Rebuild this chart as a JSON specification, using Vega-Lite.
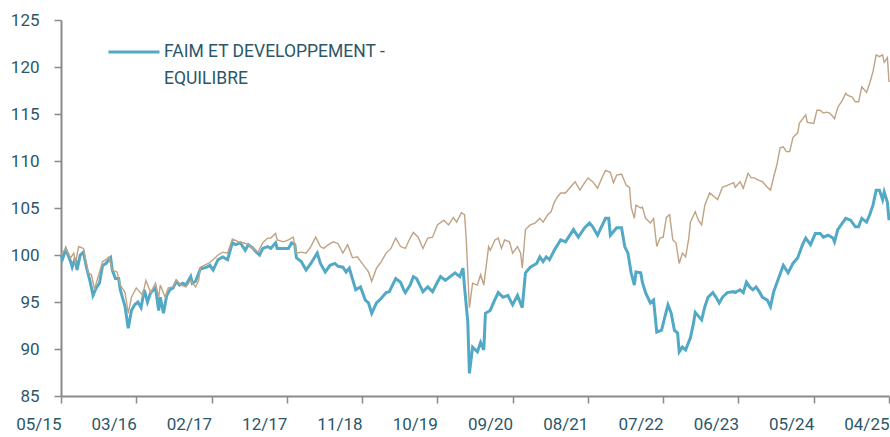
{
  "$schema": "https://vega.github.io/schema/vega-lite/v6.json",
  "width": 828,
  "height": 376,
  "autosize": {"type": "none"},
  "padding": {"left": 61, "top": 20, "right": 1, "bottom": 41},
  "background": "white",
  "config": {
    "view": {"stroke": null},
    "font": "Roboto"
  },
  "datasets": {
    "fund": [
      {"week":0,"value":100.0},{"week":1,"value":99.6},{"week":3,"value":100.6},{"week":6,"value":99.3},{"week":7,"value":98.7},{"week":9,"value":99.7},{"week":10,"value":98.4},{"week":12,"value":100.0},{"week":14,"value":100.3},{"week":16,"value":98.6},{"week":18,"value":97.3},{"week":20,"value":95.7},{"week":22,"value":96.5},{"week":24,"value":97.0},{"week":26,"value":98.9},{"week":28,"value":99.1},{"week":31,"value":99.7},{"week":32,"value":98.4},{"week":34,"value":97.5},{"week":36,"value":97.5},{"week":37,"value":96.3},{"week":40,"value":94.5},{"week":42,"value":92.2},{"week":44,"value":94.1},{"week":46,"value":94.7},{"week":48,"value":95.0},{"week":50,"value":94.4},{"week":52,"value":96.3},{"week":54,"value":95.0},{"week":56,"value":96.0},{"week":59,"value":96.5},{"week":61,"value":94.1},{"week":62,"value":95.5},{"week":64,"value":93.8},{"week":66,"value":95.7},{"week":68,"value":96.3},{"week":70,"value":96.5},{"week":72,"value":97.2},{"week":74,"value":96.8},{"week":76,"value":97.0},{"week":78,"value":96.8},{"week":81,"value":97.7},{"week":82,"value":97.0},{"week":84,"value":97.2},{"week":87,"value":98.5},{"week":91,"value":98.7},{"week":93,"value":98.9},{"week":95,"value":98.4},{"week":98,"value":99.5},{"week":101,"value":99.8},{"week":104,"value":99.5},{"week":107,"value":101.3},{"week":109,"value":101.1},{"week":112,"value":101.3},{"week":115,"value":100.5},{"week":117,"value":101.1},{"week":120,"value":100.7},{"week":122,"value":100.3},{"week":124,"value":100.0},{"week":126,"value":100.7},{"week":129,"value":100.9},{"week":131,"value":100.7},{"week":134,"value":101.3},{"week":135,"value":100.7},{"week":139,"value":100.7},{"week":142,"value":100.7},{"week":144,"value":101.3},{"week":146,"value":101.1},{"week":147,"value":99.7},{"week":150,"value":99.3},{"week":153,"value":98.4},{"week":156,"value":99.1},{"week":160,"value":100.2},{"week":162,"value":99.1},{"week":165,"value":98.2},{"week":168,"value":98.9},{"week":171,"value":99.1},{"week":173,"value":98.8},{"week":176,"value":98.7},{"week":178,"value":98.2},{"week":180,"value":98.6},{"week":184,"value":96.3},{"week":187,"value":96.6},{"week":190,"value":95.2},{"week":192,"value":94.9},{"week":194,"value":93.8},{"week":197,"value":94.9},{"week":200,"value":95.4},{"week":203,"value":96.0},{"week":205,"value":96.1},{"week":207,"value":96.8},{"week":209,"value":97.5},{"week":212,"value":97.1},{"week":214,"value":96.3},{"week":215,"value":96.0},{"week":218,"value":96.8},{"week":220,"value":97.7},{"week":222,"value":97.5},{"week":224,"value":96.8},{"week":226,"value":96.1},{"week":229,"value":96.6},{"week":232,"value":96.1},{"week":235,"value":97.1},{"week":237,"value":97.7},{"week":240,"value":97.3},{"week":243,"value":97.7},{"week":246,"value":98.1},{"week":249,"value":97.7},{"week":251,"value":98.6},{"week":252,"value":96.5},{"week":254,"value":92.9},{"week":255,"value":87.4},{"week":257,"value":90.2},{"week":260,"value":89.7},{"week":262,"value":90.7},{"week":264,"value":89.9},{"week":265,"value":93.8},{"week":268,"value":94.1},{"week":270,"value":94.9},{"week":273,"value":96.0},{"week":276,"value":95.5},{"week":279,"value":95.7},{"week":282,"value":94.7},{"week":285,"value":95.7},{"week":288,"value":94.4},{"week":290,"value":98.1},{"week":293,"value":98.7},{"week":297,"value":99.1},{"week":299,"value":99.8},{"week":301,"value":99.3},{"week":303,"value":99.8},{"week":305,"value":99.5},{"week":308,"value":100.5},{"week":312,"value":101.6},{"week":315,"value":101.4},{"week":320,"value":102.7},{"week":323,"value":101.9},{"week":327,"value":102.9},{"week":330,"value":103.4},{"week":332,"value":103.0},{"week":335,"value":102.1},{"week":340,"value":103.9},{"week":342,"value":103.9},{"week":343,"value":102.1},{"week":347,"value":102.9},{"week":350,"value":102.9},{"week":352,"value":100.9},{"week":354,"value":100.2},{"week":356,"value":98.1},{"week":358,"value":96.8},{"week":359,"value":98.2},{"week":362,"value":98.1},{"week":363,"value":97.1},{"week":365,"value":96.0},{"week":368,"value":94.9},{"week":370,"value":95.2},{"week":372,"value":91.8},{"week":375,"value":92.0},{"week":377,"value":93.4},{"week":379,"value":94.7},{"week":381,"value":93.8},{"week":383,"value":92.0},{"week":385,"value":91.7},{"week":386,"value":89.7},{"week":388,"value":90.2},{"week":390,"value":89.9},{"week":393,"value":91.2},{"week":395,"value":92.8},{"week":396,"value":93.9},{"week":400,"value":93.1},{"week":402,"value":94.5},{"week":404,"value":95.5},{"week":407,"value":96.0},{"week":409,"value":95.5},{"week":411,"value":94.9},{"week":413,"value":95.5},{"week":416,"value":96.0},{"week":420,"value":96.1},{"week":421,"value":96.0},{"week":424,"value":96.3},{"week":426,"value":96.0},{"week":428,"value":97.1},{"week":430,"value":96.6},{"week":432,"value":96.3},{"week":434,"value":96.6},{"week":436,"value":96.1},{"week":438,"value":95.5},{"week":441,"value":95.2},{"week":443,"value":94.5},{"week":445,"value":96.1},{"week":448,"value":97.5},{"week":451,"value":98.9},{"week":454,"value":98.1},{"week":457,"value":99.1},{"week":460,"value":99.7},{"week":463,"value":101.1},{"week":465,"value":101.8},{"week":468,"value":101.1},{"week":471,"value":102.3},{"week":474,"value":102.3},{"week":476,"value":101.9},{"week":479,"value":102.1},{"week":482,"value":101.8},{"week":483,"value":101.4},{"week":485,"value":102.7},{"week":490,"value":103.9},{"week":493,"value":103.7},{"week":496,"value":103.0},{"week":498,"value":103.0},{"week":500,"value":103.9},{"week":503,"value":103.5},{"week":505,"value":104.3},{"week":507,"value":105.3},{"week":509,"value":106.9},{"week":511,"value":106.9},{"week":513,"value":105.9},{"week":514,"value":106.7},{"week":516,"value":105.6},{"week":517,"value":103.7}
    ],
    "bench": [
      {"week":0,"value":100.0},{"week":3,"value":100.7},{"week":6,"value":99.7},{"week":8,"value":100.2},{"week":9,"value":99.1},{"week":11,"value":100.9},{"week":14,"value":100.7},{"week":17,"value":98.1},{"week":19,"value":97.9},{"week":21,"value":96.3},{"week":22,"value":97.0},{"week":26,"value":99.3},{"week":28,"value":99.5},{"week":30,"value":99.8},{"week":32,"value":98.4},{"week":35,"value":98.2},{"week":37,"value":96.8},{"week":40,"value":96.0},{"week":42,"value":93.8},{"week":44,"value":95.5},{"week":47,"value":96.5},{"week":49,"value":96.1},{"week":51,"value":95.7},{"week":53,"value":97.3},{"week":56,"value":96.0},{"week":59,"value":97.0},{"week":61,"value":95.5},{"week":62,"value":96.8},{"week":65,"value":95.5},{"week":67,"value":96.5},{"week":70,"value":96.6},{"week":72,"value":97.3},{"week":75,"value":96.8},{"week":78,"value":96.6},{"week":81,"value":97.3},{"week":84,"value":96.6},{"week":86,"value":97.3},{"week":87,"value":98.7},{"week":92,"value":99.1},{"week":95,"value":99.5},{"week":98,"value":100.0},{"week":101,"value":100.3},{"week":104,"value":100.2},{"week":107,"value":101.7},{"week":111,"value":101.4},{"week":114,"value":101.3},{"week":117,"value":101.1},{"week":120,"value":100.7},{"week":123,"value":100.3},{"week":126,"value":101.3},{"week":129,"value":101.8},{"week":131,"value":101.8},{"week":134,"value":102.3},{"week":135,"value":101.6},{"week":139,"value":101.4},{"week":142,"value":101.6},{"week":145,"value":101.9},{"week":147,"value":100.2},{"week":150,"value":100.3},{"week":153,"value":100.2},{"week":156,"value":100.9},{"week":159,"value":101.9},{"week":162,"value":100.9},{"week":164,"value":100.7},{"week":167,"value":101.1},{"week":170,"value":101.4},{"week":173,"value":101.2},{"week":176,"value":100.2},{"week":179,"value":101.1},{"week":182,"value":99.7},{"week":185,"value":99.8},{"week":189,"value":98.9},{"week":192,"value":98.2},{"week":194,"value":97.2},{"week":197,"value":98.6},{"week":200,"value":99.3},{"week":203,"value":100.2},{"week":206,"value":100.7},{"week":209,"value":101.8},{"week":212,"value":100.9},{"week":215,"value":100.7},{"week":218,"value":101.8},{"week":220,"value":102.4},{"week":223,"value":101.9},{"week":226,"value":100.7},{"week":229,"value":101.8},{"week":232,"value":101.9},{"week":235,"value":103.2},{"week":239,"value":103.7},{"week":242,"value":103.2},{"week":245,"value":104.0},{"week":247,"value":103.5},{"week":250,"value":104.5},{"week":252,"value":104.3},{"week":253,"value":101.8},{"week":255,"value":94.4},{"week":257,"value":97.0},{"week":260,"value":96.8},{"week":262,"value":97.9},{"week":264,"value":96.8},{"week":267,"value":100.9},{"week":268,"value":100.5},{"week":271,"value":101.6},{"week":273,"value":101.8},{"week":275,"value":100.7},{"week":277,"value":101.6},{"week":280,"value":101.4},{"week":282,"value":100.2},{"week":285,"value":100.9},{"week":287,"value":100.2},{"week":288,"value":98.6},{"week":290,"value":102.7},{"week":293,"value":103.2},{"week":296,"value":103.4},{"week":299,"value":103.9},{"week":301,"value":103.5},{"week":304,"value":104.3},{"week":306,"value":104.6},{"week":308,"value":105.6},{"week":310,"value":106.2},{"week":312,"value":106.6},{"week":315,"value":106.6},{"week":318,"value":107.2},{"week":321,"value":107.8},{"week":324,"value":106.9},{"week":327,"value":107.7},{"week":329,"value":108.2},{"week":332,"value":107.8},{"week":335,"value":107.1},{"week":338,"value":108.3},{"week":340,"value":109.0},{"week":343,"value":108.8},{"week":345,"value":107.7},{"week":347,"value":108.5},{"week":350,"value":108.6},{"week":353,"value":107.4},{"week":355,"value":107.2},{"week":356,"value":105.1},{"week":358,"value":103.9},{"week":359,"value":105.3},{"week":362,"value":105.0},{"week":363,"value":105.1},{"week":365,"value":103.9},{"week":368,"value":103.4},{"week":370,"value":103.9},{"week":372,"value":100.9},{"week":374,"value":101.8},{"week":376,"value":101.9},{"week":378,"value":104.0},{"week":380,"value":104.3},{"week":382,"value":101.6},{"week":384,"value":101.3},{"week":386,"value":99.1},{"week":388,"value":100.2},{"week":390,"value":99.8},{"week":392,"value":101.8},{"week":393,"value":103.5},{"week":396,"value":104.6},{"week":398,"value":103.7},{"week":400,"value":103.2},{"week":402,"value":105.3},{"week":405,"value":106.6},{"week":408,"value":106.2},{"week":410,"value":105.9},{"week":413,"value":107.2},{"week":416,"value":107.4},{"week":420,"value":107.7},{"week":421,"value":107.2},{"week":424,"value":107.8},{"week":426,"value":107.1},{"week":429,"value":108.7},{"week":431,"value":108.2},{"week":433,"value":108.2},{"week":435,"value":108.0},{"week":438,"value":107.8},{"week":440,"value":107.4},{"week":441,"value":107.2},{"week":443,"value":106.9},{"week":445,"value":108.3},{"week":447,"value":109.6},{"week":449,"value":111.4},{"week":451,"value":111.5},{"week":453,"value":111.0},{"week":455,"value":111.0},{"week":457,"value":112.5},{"week":460,"value":113.0},{"week":461,"value":114.0},{"week":465,"value":114.9},{"week":466,"value":114.1},{"week":470,"value":114.0},{"week":472,"value":115.4},{"week":474,"value":115.4},{"week":476,"value":115.1},{"week":478,"value":115.2},{"week":480,"value":115.1},{"week":482,"value":114.7},{"week":483,"value":114.5},{"week":485,"value":115.7},{"week":488,"value":116.5},{"week":490,"value":117.2},{"week":491,"value":117.0},{"week":494,"value":116.8},{"week":496,"value":116.3},{"week":498,"value":116.3},{"week":500,"value":117.9},{"week":503,"value":117.3},{"week":505,"value":118.3},{"week":507,"value":119.5},{"week":509,"value":121.3},{"week":511,"value":121.1},{"week":513,"value":121.3},{"week":514,"value":120.5},{"week":516,"value":121.0},{"week":517,"value":118.4}
    ]
  },
  "encoding": {
    "x": {
      "field": "week",
      "type": "quantitative",
      "scale": {"domain": [0, 517], "nice": false, "zero": false},
      "axis": {
        "title": null,
        "grid": false,
        "values": [0, 47, 94, 141, 188, 235, 282, 329, 376, 423, 470, 517],
        "labelExpr": "['05/15','03/16','02/17','12/17','11/18','10/19','09/20','08/21','07/22','06/23','05/24','04/25'][round(datum.value / 47)]",
        "labelAlign": "right",
        "labelFlush": false,
        "labelBound": false,
        "labelOverlap": false,
        "labelFontSize": 17,
        "labelColor": "#2b5769",
        "labelPadding": 13,
        "tickSize": 7,
        "tickColor": "#8a8a8a",
        "tickWidth": 1.5,
        "domainColor": "#8a8a8a",
        "domainWidth": 2
      }
    },
    "y": {
      "field": "value",
      "type": "quantitative",
      "scale": {"domain": [85, 125], "nice": false, "zero": false},
      "axis": {
        "title": null,
        "grid": false,
        "values": [85, 90, 95, 100, 105, 110, 115, 120, 125],
        "labelFontSize": 17,
        "labelColor": "#2b5769",
        "labelPadding": 15,
        "labelFlush": false,
        "labelBound": false,
        "tickSize": 7,
        "tickColor": "#8a8a8a",
        "tickWidth": 1.5,
        "domainColor": "#8a8a8a",
        "domainWidth": 2
      }
    }
  },
  "layer": [
    {
      "data": {"name": "fund"},
      "mark": {"type": "line", "strokeWidth": 3, "interpolate": "linear"},
      "encoding": {
        "color": {
          "datum": "FAIM ET DEVELOPPEMENT - EQUILIBRE",
          "type": "nominal",
          "scale": {"range": ["#52a9c5"]},
          "legend": {
            "title": null,
            "orient": "none",
            "legendX": 46,
            "legendY": 5,
            "padding": 0,
            "symbolType": "stroke",
            "symbolSize": 2601,
            "symbolStrokeWidth": 3,
            "labelFontSize": 17.5,
            "labelColor": "#2b5769",
            "labelOffset": 3,
            "labelLimit": 400,
            "labelExpr": "['FAIM ET DEVELOPPEMENT -', 'EQUILIBRE']",
            "encode": {"labels": {"update": {"lineHeight": {"value": 27}}}}
          }
        }
      }
    },
    {
      "data": {"name": "bench"},
      "mark": {"type": "line", "color": "#bfa384", "strokeWidth": 1.4}
    }
  ]
}
